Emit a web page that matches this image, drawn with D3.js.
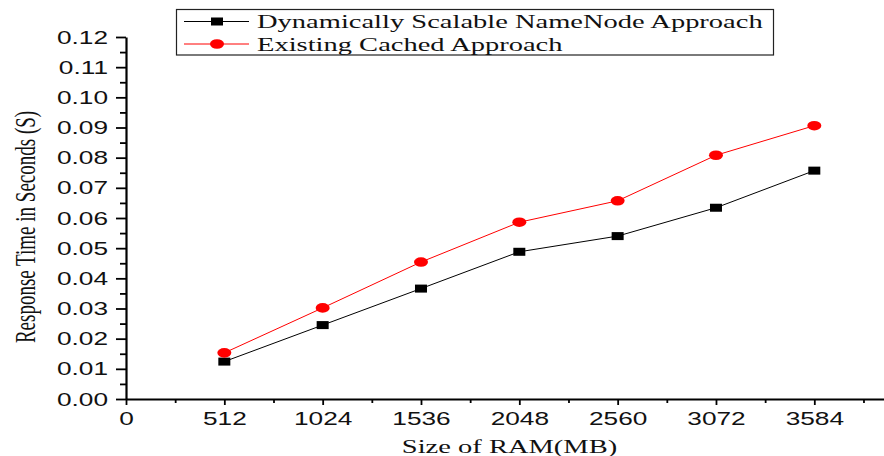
<!DOCTYPE html>
<html>
<head>
<meta charset="utf-8">
<script src="https://cdn.jsdelivr.net/npm/d3@7"></script>
<style>
  html, body { margin: 0; padding: 0; background: #fff; }
  svg { display: block; }
  .sans { font-family: "Liberation Sans", Arial, sans-serif; }
  .serif { font-family: "Liberation Serif", "Times New Roman", "DejaVu Serif", serif; }
</style>
</head>
<body>
<svg id="chart" width="884" height="456"></svg>
<script>
// ---- data ----
const ramSizes = [512, 1024, 1536, 2048, 2560, 3072, 3584];
const dynamicValues = [0.0124, 0.0245, 0.0366, 0.0488, 0.0540, 0.0634, 0.0757];
const cachedValues  = [0.0153, 0.0302, 0.0454, 0.0586, 0.0657, 0.0808, 0.0906];
const seriesNames = ["Dynamically Scalable NameNode Approach", "Existing Cached Approach"];
const xTickValues = [0, 512, 1024, 1536, 2048, 2560, 3072, 3584];
const xMinorTicks = [256, 768, 1280, 1792, 2304, 2816, 3328, 3840];
const yTickValues = [0, 0.01, 0.02, 0.03, 0.04, 0.05, 0.06, 0.07, 0.08, 0.09, 0.10, 0.11, 0.12];
const yMinorTicks = [0.005, 0.015, 0.025, 0.035, 0.045, 0.055, 0.065, 0.075, 0.085, 0.095, 0.105, 0.115];
const xTitle = "Size of RAM(MB)";
const yTitle = "Response Time in Seconds (S)";

// ---- layout ----
const SX = 1.5; // horizontal stretch of the original picture
const svg = d3.select("#chart");
const x = d3.scaleLinear().domain([0, 4096]).range([126, 126 + 8 * 98.33]);
const y = d3.scaleLinear().domain([0, 0.12]).range([399, 37]);

// X axis
const gx = svg.append("g").attr("transform", `translate(0,${y(0)})`);
gx.call(d3.axisBottom(x).tickValues(xTickValues).tickSize(6).tickSizeOuter(0).tickFormat(d3.format("d")));
const gxm = svg.append("g").attr("transform", `translate(0,${y(0)})`);
gxm.call(d3.axisBottom(x).tickValues(xMinorTicks).tickSize(4).tickSizeOuter(0).tickFormat(""));
gxm.select(".domain").remove();

// Y axis
const gy = svg.append("g").attr("transform", `translate(${x(0)},0)`);
gy.call(d3.axisLeft(y).tickValues(yTickValues).tickSize(10).tickSizeOuter(0).tickFormat(d3.format(".2f")));
const gym = svg.append("g").attr("transform", `translate(${x(0)},0)`);
gym.call(d3.axisLeft(y).tickValues(yMinorTicks).tickSize(6).tickSizeOuter(0).tickFormat(""));
gym.select(".domain").remove();

svg.selectAll(".domain").attr("stroke", "#000").attr("stroke-width", 2.2);
svg.selectAll(".tick line").attr("stroke", "#000").attr("stroke-width", 1.8);

// style tick labels (stretched horizontally)
svg.selectAll("g").attr("font-family", null);
gx.selectAll(".tick text")
  .attr("class", "sans").attr("font-size", 17.5).attr("fill", "#111")
  .attr("y", 0).attr("dy", 0)
  .attr("transform", `translate(0,26) scale(${SX},1)`);
gy.selectAll(".tick text")
  .attr("class", "sans").attr("font-size", 17.5).attr("fill", "#111")
  .attr("x", 0).attr("dy", 0)
  .attr("text-anchor", "end")
  .attr("transform", `translate(-18,6) scale(${SX},1)`);

// Axis titles
svg.append("text")
  .attr("class", "serif")
  .attr("transform", `translate(${(401 + 618) / 2},453) scale(${SX},1)`)
  .attr("text-anchor", "middle")
  .attr("font-size", 19).attr("fill", "#111")
  .text(xTitle);
svg.append("text")
  .attr("class", "serif")
  .attr("transform", `translate(35,227) scale(${SX},1) rotate(-90)`)
  .attr("text-anchor", "middle")
  .attr("font-size", 19).attr("fill", "#111")
  .text(yTitle);

// Lines
const line = d3.line().x((d, i) => x(ramSizes[i])).y(d => y(d));
svg.append("path").datum(dynamicValues).attr("d", line)
  .attr("fill", "none").attr("stroke", "#000").attr("stroke-width", 1);
svg.append("path").datum(cachedValues).attr("d", line)
  .attr("fill", "none").attr("stroke", "#ff0000").attr("stroke-width", 1);

// Markers
const sqW = 12, sqH = 8;
svg.append("g").selectAll("rect").data(dynamicValues).join("rect")
  .attr("x", (d, i) => x(ramSizes[i]) - sqW / 2)
  .attr("y", d => y(d) - sqH / 2)
  .attr("width", sqW).attr("height", sqH).attr("fill", "#000");
svg.append("g").selectAll("ellipse").data(cachedValues).join("ellipse")
  .attr("cx", (d, i) => x(ramSizes[i]))
  .attr("cy", d => y(d))
  .attr("rx", 7).attr("ry", 4.8).attr("fill", "#ff0000");

// Legend
const lg = svg.append("g");
lg.append("rect").attr("x", 176.5).attr("y", 9.5).attr("width", 597).attr("height", 45.5)
  .attr("fill", "#fff").attr("stroke", "#222").attr("stroke-width", 1.2);
const rows = [
  { name: seriesNames[0], color: "#000", cy: 21.5, marker: "rect" },
  { name: seriesNames[1], color: "#ff0000", cy: 44, marker: "ellipse" }
];
rows.forEach(r => {
  lg.append("line").attr("x1", 184).attr("x2", 249).attr("y1", r.cy).attr("y2", r.cy)
    .attr("stroke", r.color).attr("stroke-width", 1);
  if (r.marker === "rect") {
    lg.append("rect").attr("x", 217 - sqW / 2).attr("y", r.cy - sqH / 2)
      .attr("width", sqW).attr("height", sqH).attr("fill", r.color);
  } else {
    lg.append("ellipse").attr("cx", 217).attr("cy", r.cy).attr("rx", 7).attr("ry", 4.8).attr("fill", r.color);
  }
  lg.append("text")
    .attr("class", "serif")
    .attr("transform", `translate(257,${r.cy + 6.5}) scale(${SX},1)`)
    .attr("font-size", 19).attr("fill", "#111")
    .text(r.name);
});
</script>
</body>
</html>
